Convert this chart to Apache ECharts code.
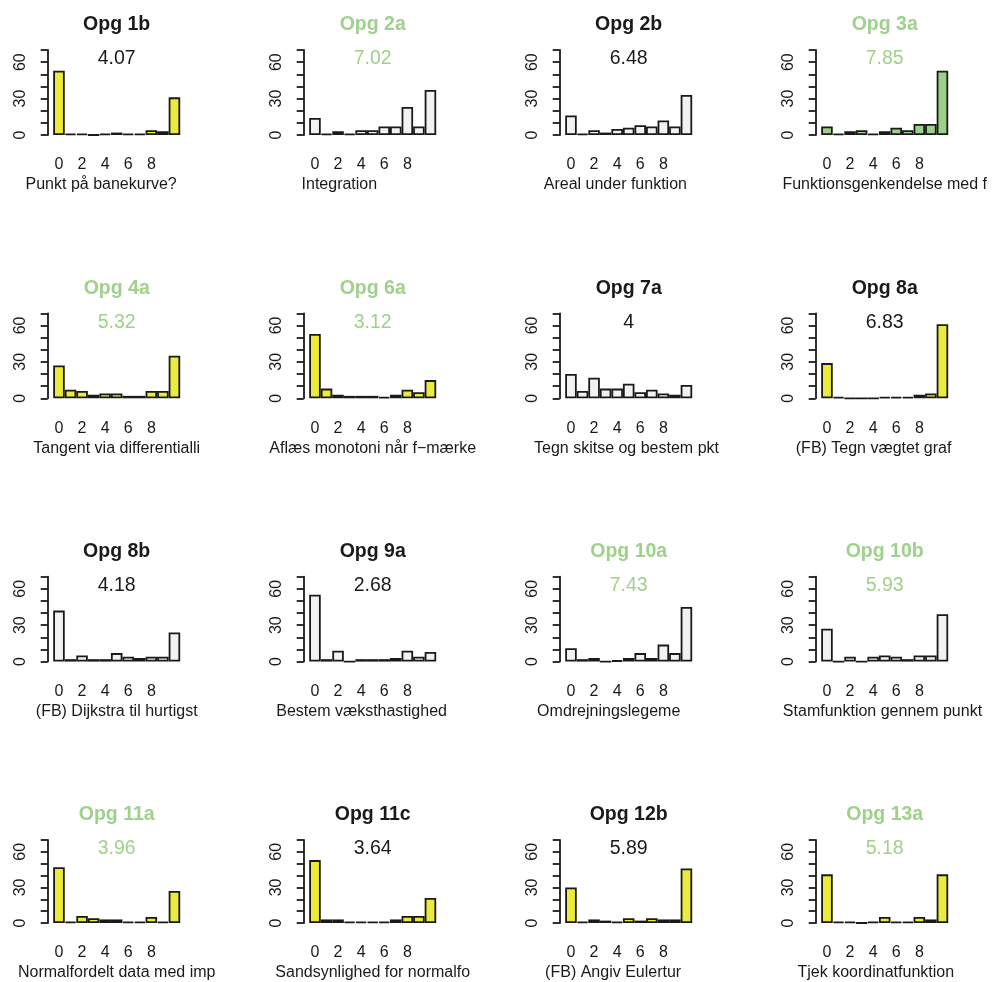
<!DOCTYPE html>
<html><head><meta charset="utf-8">
<script src="https://cdn.jsdelivr.net/npm/echarts@6.0.0/dist/echarts.min.js"></script>
<style>html,body{margin:0;padding:0;background:#fff}#c{width:992px;height:982px}</style>
</head><body><div id="c"></div>
<script>
// ---- data ----
const categories = ['0','1','2','3','4','5','6','7','8','9','10'];
const xTickLabels = ['0','2','4','6','8'];
const yTickLabels = [0, 30, 60];
const titles = ['Opg 1b','Opg 2a','Opg 2b','Opg 3a','Opg 4a','Opg 6a','Opg 7a','Opg 8a',
                'Opg 8b','Opg 9a','Opg 10a','Opg 10b','Opg 11a','Opg 11c','Opg 12b','Opg 13a'];
const means = ['4.07','7.02','6.48','7.85','5.32','3.12','4','6.83',
               '4.18','2.68','7.43','5.93','3.96','3.64','5.89','5.18'];
const xLabels = ['Punkt på banekurve?','Integration','Areal under funktion','Funktionsgenkendelse med f',
                 'Tangent via differentialli','Aflæs monotoni når f−mærke','Tegn skitse og bestem pkt','(FB) Tegn vægtet graf',
                 '(FB) Dijkstra til hurtigst','Bestem væksthastighed','Omdrejningslegeme','Stamfunktion gennem punkt',
                 'Normalfordelt data med imp','Sandsynlighed for normalfo','(FB) Angiv Eulertur','Tjek koordinatfunktion'];
const titleGreen = [false,true,false,true,true,true,false,false,false,false,true,true,true,false,false,true];
const fillKind = ['yellow','gray','gray','green','yellow','yellow','gray','yellow',
                  'gray','gray','gray','gray','yellow','yellow','yellow','yellow'];
const opg1b  = [53,1,1,0,1,2,1,1,4,3,31];
const opg2a  = [14,1,3,1,4,4,7,7,23,7,37];
const opg2b  = [16,1,4,2,5,6,8,7,12,7,33];
const opg3a  = [7,1,3,4,1,3,6,4,9,9,53];
const opg4a  = [27,7,6,3,4,4,2,2,6,6,35];
const opg6a  = [53,8,3,2,2,2,1,3,7,5,15];
const opg7a  = [20,6,17,8,8,12,5,7,4,3,11];
const opg8a  = [29,1,0,0,0,1,1,1,3,4,61];
const opg8b  = [42,2,5,2,2,7,4,3,4,4,24];
const opg9a  = [55,2,9,0,2,2,2,3,9,4,8];
const opg10a = [11,2,3,0,1,3,7,3,14,7,45];
const opg10b = [27,0,4,0,4,5,4,2,5,5,39];
const opg11a = [47,1,6,4,3,3,1,1,5,1,27];
const opg11c = [53,3,3,1,1,1,1,3,6,6,21];
const opg12b = [30,1,3,2,1,4,2,4,3,3,46];
const opg13a = [41,1,1,0,1,5,1,1,5,3,41];
const counts = [opg1b,opg2a,opg2b,opg3a,opg4a,opg6a,opg7a,opg8a,opg8b,opg9a,opg10a,opg10b,opg11a,opg11c,opg12b,opg13a];

// ---- styling/layout ----
const FONT = '"Liberation Sans", Arial, Helvetica, sans-serif';
const GREEN_TXT = '#9fd18b';
const FILLS = {yellow:'#ebeb3d', gray:'#f2f2f2', green:'#9ccf8a'};
const INK = '#1a1a1a';
const colX0 = 47.7, colStep = 256, rowY0 = 135, rowStep = 263.3;
const axisGap = 5.5, gridW = 127, gridH = 85;

const grids = [], xAxes = [], yAxes = [], series = [], graphics = [];
for (let i = 0; i < counts.length; i++) {
  const r = Math.floor(i / 4), c = i % 4;
  const axisX = colX0 + colStep * c;
  const base = rowY0 + rowStep * r;
  const left = axisX + axisGap;
  grids.push({left: left, top: base - gridH, width: gridW, height: gridH, containLabel: false});
  xAxes.push({
    type: 'category', gridIndex: i, data: categories, boundaryGap: true,
    axisLine: {show: false}, axisTick: {show: false}, splitLine: {show: false},
    axisLabel: {interval: (idx, val) => xTickLabels.includes(val), margin: 22,
                fontSize: 16, color: INK, fontFamily: FONT},
    name: xLabels[i].padEnd(26, ' '), nameLocation: 'middle', nameGap: 42,
    nameTextStyle: {fontSize: 16, color: INK, fontFamily: FONT}
  });
  yAxes.push({
    type: 'value', gridIndex: i, min: 0, max: 70, interval: 10, offset: axisGap,
    axisLine: {show: true, lineStyle: {color: INK, width: 1.8}},
    axisTick: {show: true, length: 7, lineStyle: {color: INK, width: 1.8}},
    splitLine: {show: false},
    axisLabel: {rotate: 90, margin: 19, fontSize: 16, color: INK, fontFamily: FONT,
                formatter: v => yTickLabels.includes(v) ? String(v) : ''}
  });
  series.push({
    type: 'bar', xAxisIndex: i, yAxisIndex: i, data: counts[i],
    barCategoryGap: '0%', silent: true,
    itemStyle: {color: FILLS[fillKind[i]], borderColor: INK, borderWidth: 1.8}
  });
  const cx = left + gridW / 2;
  const tcol = titleGreen[i] ? GREEN_TXT : INK;
  graphics.push({type: 'text', x: cx, y: base - 110, silent: true,
    style: {text: titles[i], fill: tcol, font: 'bold 19.5px ' + FONT,
            align: 'center', verticalAlign: 'middle', textAlign: 'center', textVerticalAlign: 'middle'}});
  graphics.push({type: 'text', x: cx, y: base - 76, silent: true,
    style: {text: means[i], fill: tcol, font: '19.5px ' + FONT,
            align: 'center', verticalAlign: 'middle', textAlign: 'center', textVerticalAlign: 'middle'}});
}

const chart = echarts.init(document.getElementById('c'), null, {renderer: 'canvas'});
chart.setOption({
  animation: false, backgroundColor: '#fff',
  grid: grids, xAxis: xAxes, yAxis: yAxes, series: series, graphic: graphics
});
</script></body></html>
